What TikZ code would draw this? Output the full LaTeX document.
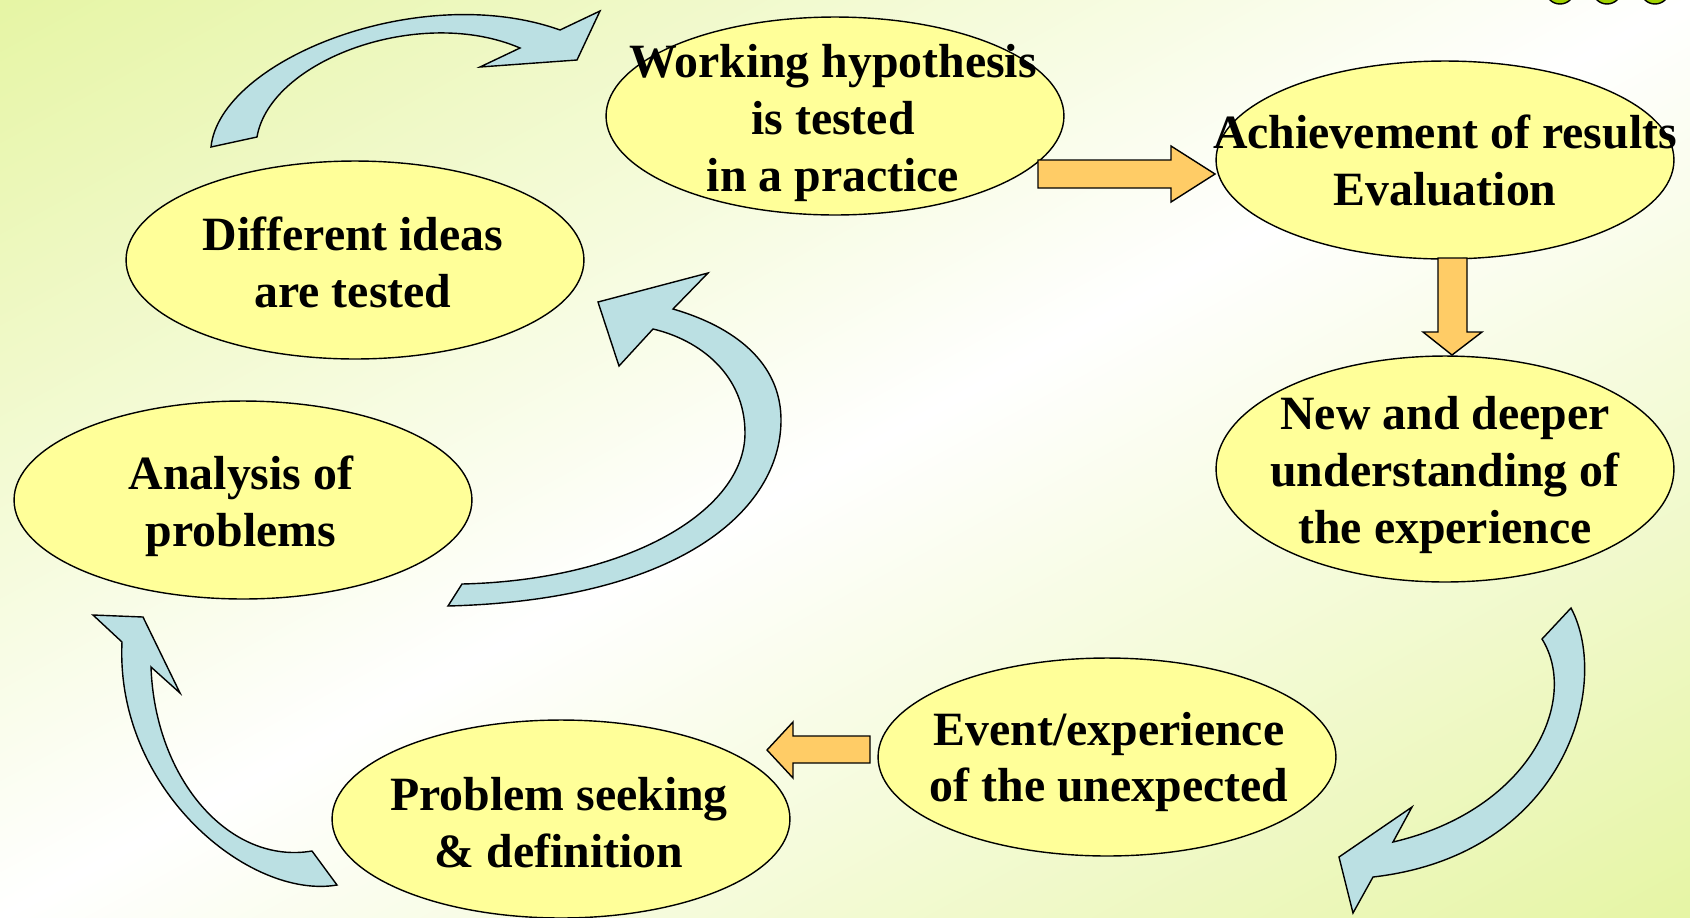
\documentclass[tikz,border=0pt]{standalone}
\usepackage{fontspec}
\setmainfont{Liberation Serif}
\usetikzlibrary{shapes.geometric}
\definecolor{bggreen}{RGB}{230,245,165}
\definecolor{bubblefill}{RGB}{255,255,153}
\definecolor{loopblue}{RGB}{187,224,227}
\definecolor{steporange}{RGB}{255,204,102}
\definecolor{dotgreen}{RGB}{160,210,0}
\pgfdeclareverticalshading{bgshade}{100bp}{color(0bp)=(bggreen); color(29.85bp)=(bggreen); color(50bp)=(white); color(70.15bp)=(bggreen); color(100bp)=(bggreen)}

\begin{document}
\begin{tikzpicture}[x=0.02cm, y=-0.02cm,
		bubble/.style={ellipse, draw=black, line width=0.8pt, fill=bubblefill, minimum width=9.16cm, minimum height=3.96cm, inner sep=0pt},
		bubbletext/.style={align=center, inner sep=0pt, font=\bfseries\fontsize{27.2}{32.4}\selectfont},
		bluearrow/.style={draw=black, line width=0.8pt, fill=loopblue, line join=miter},
		orangearrow/.style={draw=black, line width=0.8pt, fill=steporange, line join=miter}]
			%%%%% START %%%%%
			
			\useasboundingbox (0,0) rectangle (1690,917);
			\begin{scope}
				\clip (0,0) rectangle (1690,917);
				\shade[shading=bgshade, shading angle=28.5] (-155,-541.5) rectangle (1845,1458.5);
				\foreach \x in {1560,1607,1655}
					\draw[fill=dotgreen, line width=0.8pt] (\x,-10.5) circle[radius=0.29cm];
			\end{scope}
			
			% curved loop arrows
			\draw[bluearrow] (211,147) .. controls (220,60) and (420,-20) .. (560,30) -- (600,11) -- (577,60) -- (480,67) -- (520,48) .. controls (420,5) and (270,60) .. (257,137) -- cycle;
			\draw[bluearrow] (448,606) .. controls (680,600) and (781,510) .. (781,420) .. controls (781,370) and (745,330) .. (673,309) -- (708,273) -- (598,302) -- (619,366) -- (653,329) .. controls (700,340) and (745,375) .. (745,433) .. controls (745,510) and (630,580) .. (462,584) -- cycle;
			\draw[bluearrow] (337,885) .. controls (250,900) and (115,790) .. (122,642) -- (93,615) -- (143,617) -- (180,693) -- (151,667) .. controls (155,780) and (230,865) .. (312,851) -- cycle;
			\draw[bluearrow] (1571,608) .. controls (1612,685) and (1565,855) .. (1373,877) -- (1353,913) -- (1339,857) -- (1412,807) -- (1393,842) .. controls (1530,810) and (1580,700) .. (1542,639) -- cycle;
			
			% bubbles
			\node[bubble] (hyp) at (835,116) {};
			\node[bubble] (ach) at (1445,160) {};
			\node[bubble, minimum height=4.52cm] (deep) at (1445,469) {};
			\node[bubble] (event) at (1107,757) {};
			\node[bubble] (seek) at (561,819) {};
			\node[bubble] (anal) at (243,500) {};
			\node[bubble] (ideas) at (355,260) {};
			
			\node[bubbletext] (hyp-t) at (833,123) {Working hypothesis\\is tested\\in a practice};
			\node[bubbletext] (ach-t) at (1445,160) {Achievement of results\\Evaluation};
			\node[bubbletext] (deep-t) at (1445,475) {New and deeper\\understanding of\\the experience};
			\node[bubbletext] (event-t) at (1109,762) {Event/experience\\of the unexpected};
			\node[bubbletext] (seek-t) at (559,823) {Problem seeking\\\& definition};
			\node[bubbletext] (anal-t) at (241,506) {Analysis of\\problems};
			\node[bubbletext] (ideas-t) at (353,262) {Different ideas\\are tested};
			
			% straight step arrows
			\draw[orangearrow] (1038,160) -- (1171,160) -- (1171,146) -- (1215,174) -- (1171,202) -- (1171,188) -- (1038,188) -- cycle;
			\draw[orangearrow] (1438,258) -- (1467,258) -- (1467,332) -- (1482,332) -- (1452,355) -- (1423,332) -- (1438,332) -- cycle;
			\draw[orangearrow] (870,736) -- (793,736) -- (793,722) -- (767,750) -- (793,778) -- (793,763) -- (870,763) -- cycle;
			
			%%%%% END %%%%%
\end{tikzpicture}
\end{document}
